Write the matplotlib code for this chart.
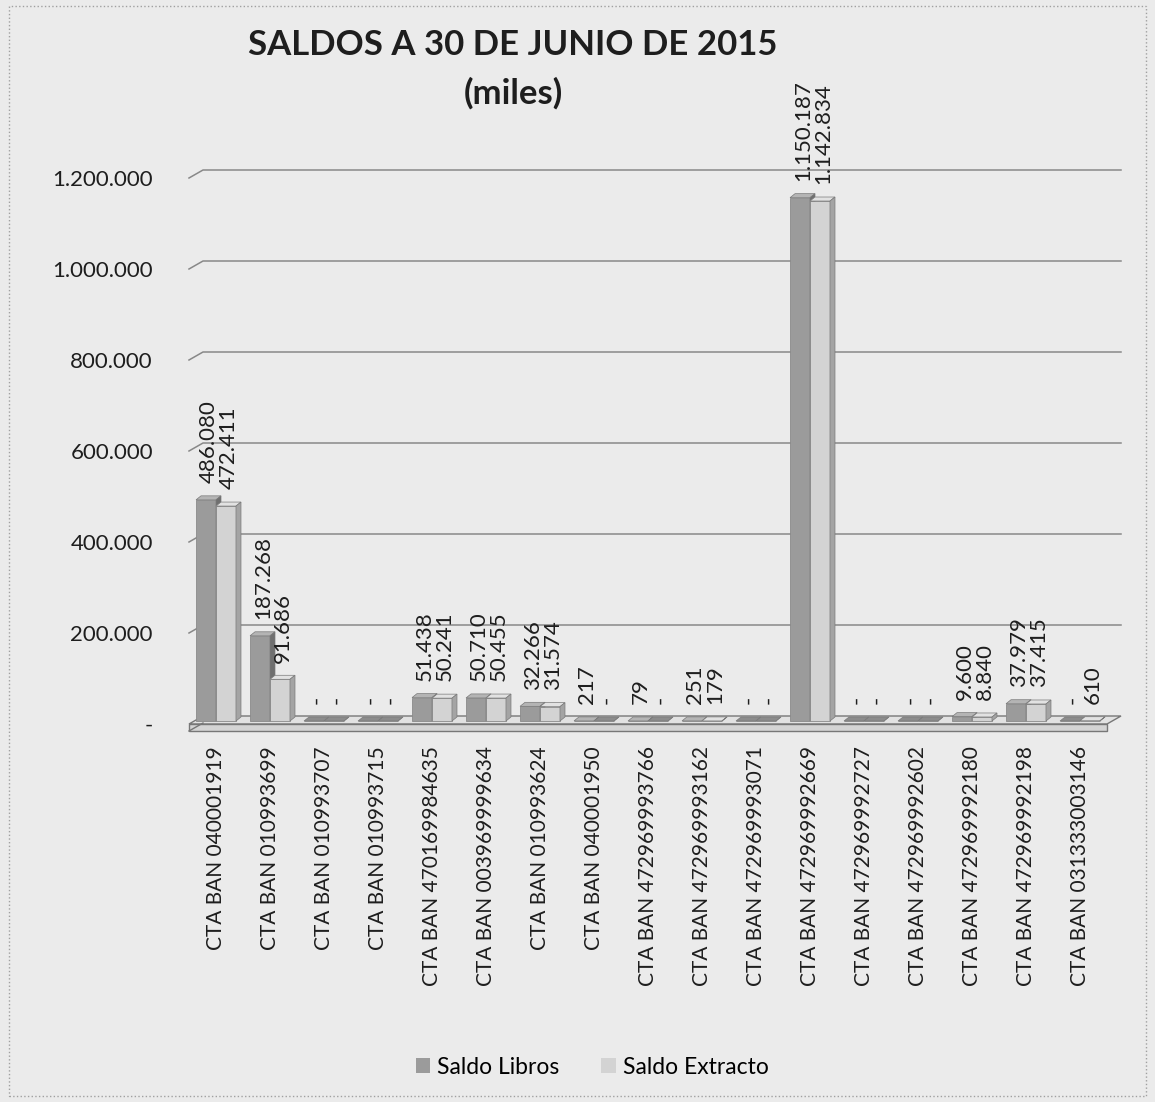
import matplotlib.pyplot as plt
from matplotlib.patches import Polygon, Patch, Rectangle
from matplotlib.ticker import FuncFormatter

plt.rcParams['font.family'] = ['Lato', 'DejaVu Sans']

cuentas = [
    "CTA BAN 040001919", "CTA BAN 010993699", "CTA BAN 010993707",
    "CTA BAN 010993715", "CTA BAN 470169984635", "CTA BAN 003969999634",
    "CTA BAN 010993624", "CTA BAN 040001950", "CTA BAN 472969993766",
    "CTA BAN 472969993162", "CTA BAN 472969993071", "CTA BAN 472969992669",
    "CTA BAN 472969992727", "CTA BAN 472969992602", "CTA BAN 472969992180",
    "CTA BAN 472969992198", "CTA BAN 031333003146",
]
saldo_libros = [486080, 187268, 0, 0, 51438, 50710, 32266, 217, 79, 251,
                0, 1150187, 0, 0, 9600, 37979, 0]
saldo_extracto = [472411, 91686, 0, 0, 50241, 50455, 31574, 0, 0, 179,
                  0, 1142834, 0, 0, 8840, 37415, 610]
y_ticks = [0, 200000, 400000, 600000, 800000, 1000000, 1200000]

W, H = 1155, 1102
fig = plt.figure(figsize=(W / 100, H / 100), dpi=100, facecolor='#ebebeb')
ax_l, ax_r, ax_t, ax_b = 189, 1107, 178, 724
ax = fig.add_axes([ax_l / W, 1 - ax_b / H, (ax_r - ax_l) / W, (ax_b - ax_t) / H])
ax.set_facecolor('none')

n = len(cuentas)
ymax = 1200000
ax.set_xlim(-0.5, n - 0.5)
ax.set_ylim(0, ymax)

# pixel -> data conversions for the fake 3D depth
px_x = (n) / (ax_r - ax_l)
px_y = ymax / (ax_b - ax_t)
wall_dx, wall_dy = 14 * px_x, 8 * px_y
bar_dx, bar_dy = 5 * px_x, 4 * px_y

xl, xr = -0.5, n - 0.5

# gridlines on the back wall with the slanted side-wall edge
for t in y_ticks[1:]:
    ax.plot([xl, xl + wall_dx, xr + wall_dx], [t, t + wall_dy, t + wall_dy],
            color='#888888', lw=1.1, clip_on=False, zorder=1)

# floor slab
thick = 7 * px_y
floor_top = Polygon([(xl, 0), (xr, 0), (xr + wall_dx, wall_dy), (xl + wall_dx, wall_dy)],
                    closed=True, fc='#e2e2e2', ec='#777777', lw=1, clip_on=False, zorder=2)
floor_front = Polygon([(xl, 0), (xr, 0), (xr, -thick), (xl, -thick)],
                      closed=True, fc='#d4d4d4', ec='#777777', lw=1, clip_on=False, zorder=2)
ax.add_patch(floor_top)
ax.add_patch(floor_front)
ax.plot([xl, xl + wall_dx], [-thick, wall_dy - thick], color='#777777', lw=1, clip_on=False, zorder=2)

bw = 0.37
series = [
    (saldo_libros, -bw / 2, '#9b9b9b', '#6f6f6f', '#b4b4b4'),
    (saldo_extracto, bw / 2, '#d3d3d3', '#a4a4a4', '#e2e2e2'),
]
base = 3 * px_y


def fmt(v):
    return '-' if v == 0 else f"{v:,}".replace(',', '.')


for vals, off, c_front, c_side, c_top in series:
    xs = [i + off for i in range(n)]
    hs = [v if v > 0 else 0 for v in vals]
    ax.bar(xs, hs, width=bw, bottom=base, color=c_front, edgecolor='#8a8a8a',
           linewidth=0.6, zorder=4)
    for x, h in zip(xs, hs):
        x0, x1 = x - bw / 2, x + bw / 2
        top = base + h
        tc = c_top if h > 0 else '#8c8c8c'
        ax.add_patch(Polygon([(x0, top), (x1, top), (x1 + bar_dx, top + bar_dy),
                              (x0 + bar_dx, top + bar_dy)], closed=True,
                             fc=tc, ec='#7a7a7a', lw=0.5, zorder=4, clip_on=False))
        ax.add_patch(Polygon([(x1, base), (x1, top), (x1 + bar_dx, top + bar_dy),
                              (x1 + bar_dx, base + bar_dy)], closed=True,
                             fc=c_side, ec='#7a7a7a', lw=0.5, zorder=4, clip_on=False))
    for x, h, v in zip(xs, hs, vals):
        ax.annotate(fmt(v), (x, base + h), xytext=(2, 12), textcoords='offset points',
                    rotation=90, ha='center', va='bottom', fontsize=16,
                    color='#1e1e1e', zorder=5, annotation_clip=False)

ax.set_yticks(y_ticks)
ax.yaxis.set_major_formatter(FuncFormatter(lambda v, p: fmt(int(v))))
ax.set_xticks(range(n))
ax.set_xticklabels(cuentas, rotation=90, fontsize=15, color='#1e1e1e')
ax.tick_params(axis='y', length=0, pad=26, labelsize=16, labelcolor='#1e1e1e')
ax.tick_params(axis='x', length=0, pad=16)
for s in ax.spines.values():
    s.set_visible(False)

fig.text(513 / W, 1 - 45 / H, 'SALDOS A 30 DE JUNIO DE 2015', ha='center', va='center',
         fontsize=25, weight='bold', color='#1e1e1e')
fig.text(513 / W, 1 - 93 / H, '(miles)', ha='center', va='center',
         fontsize=25, weight='bold', color='#1e1e1e')

handles = [Patch(fc='#9b9b9b', ec='none', label='Saldo Libros'),
           Patch(fc='#d3d3d3', ec='none', label='Saldo Extracto')]
fig.legend(handles=handles, loc='center', bbox_to_anchor=(592 / W, 1 - 1067 / H), ncol=2,
           frameon=False, fontsize=16.5, handlelength=0.65, handleheight=0.65,
           handletextpad=0.3, columnspacing=1.8)

fig.patches.append(Rectangle((9 / W, 6 / H), 1 - 18 / W, 1 - 12 / H, transform=fig.transFigure,
                             fill=False, ec='#a0a0a0', lw=1, ls=':'))

fig.savefig('out.png', dpi=100, facecolor=fig.get_facecolor())
